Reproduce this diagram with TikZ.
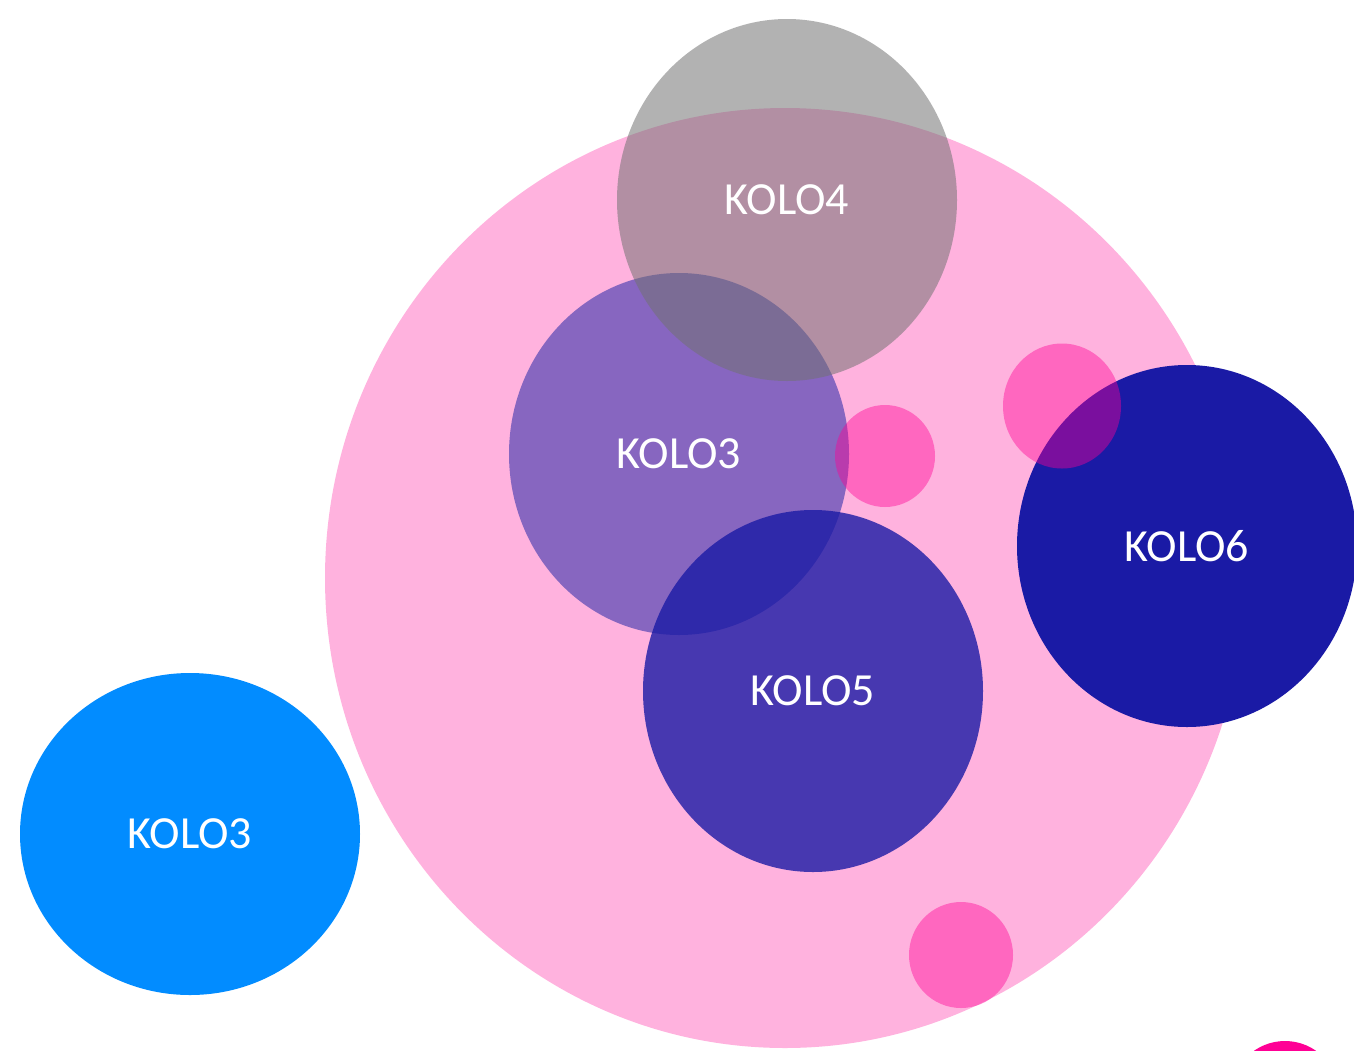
\documentclass[tikz,border=0pt]{standalone}
\usepackage{fontspec}
\setmainfont{Carlito}
\usetikzlibrary{shapes.geometric}
\definecolor{mag}{RGB}{255,0,149}
\definecolor{purp}{RGB}{135,102,192}
\definecolor{grayc}{RGB}{114,114,114}
\definecolor{navy}{RGB}{26,26,165}
\definecolor{skyb}{RGB}{2,140,255}
\tikzset{
  blob/.style={ellipse, inner sep=0pt, draw=none, text=white, text opacity=1,
    font=\fontsize{46}{50}\selectfont},
  big/.style={blob, minimum width=340pt, minimum height=362pt},
}
\begin{document}
\begin{tikzpicture}[x=1pt,y=-1pt]
\useasboundingbox (0,0) rectangle (1354,1050);
\clip (0,0) rectangle (1354,1050);
\fill[white] (0,0) rectangle (1354,1050);
\node[blob, fill=mag, fill opacity=0.3, minimum width=920pt, minimum height=940pt] (bigpink) at (785,578) {};
\node[blob, fill=mag, fill opacity=0.42, minimum width=104pt, minimum height=106pt] (dot3) at (961,955) {};
\node[big, fill=purp] (kolo3) at (679,454) {KOLO3};
\node[big, fill=grayc, fill opacity=0.54] (kolo4) at (787,200) {KOLO4};
\node[big, fill=navy, fill opacity=0.8] (kolo5) at (813,691) {KOLO5};
\node[big, fill=navy] (kolo6) at (1187,546) {KOLO6};
\node[blob, fill=mag, fill opacity=0.42, minimum width=100pt, minimum height=102pt] (dot1) at (885,456) {};
\node[blob, fill=mag, fill opacity=0.42, minimum width=118pt, minimum height=125pt] (dot2) at (1062,406) {};
\node[blob, fill=skyb, minimum width=340pt, minimum height=322pt] (kolo3b) at (190,834) {KOLO3};
\node[blob, fill=mag, minimum width=108pt, minimum height=108pt] (dot4) at (1285,1095) {};
\end{tikzpicture}
\end{document}
